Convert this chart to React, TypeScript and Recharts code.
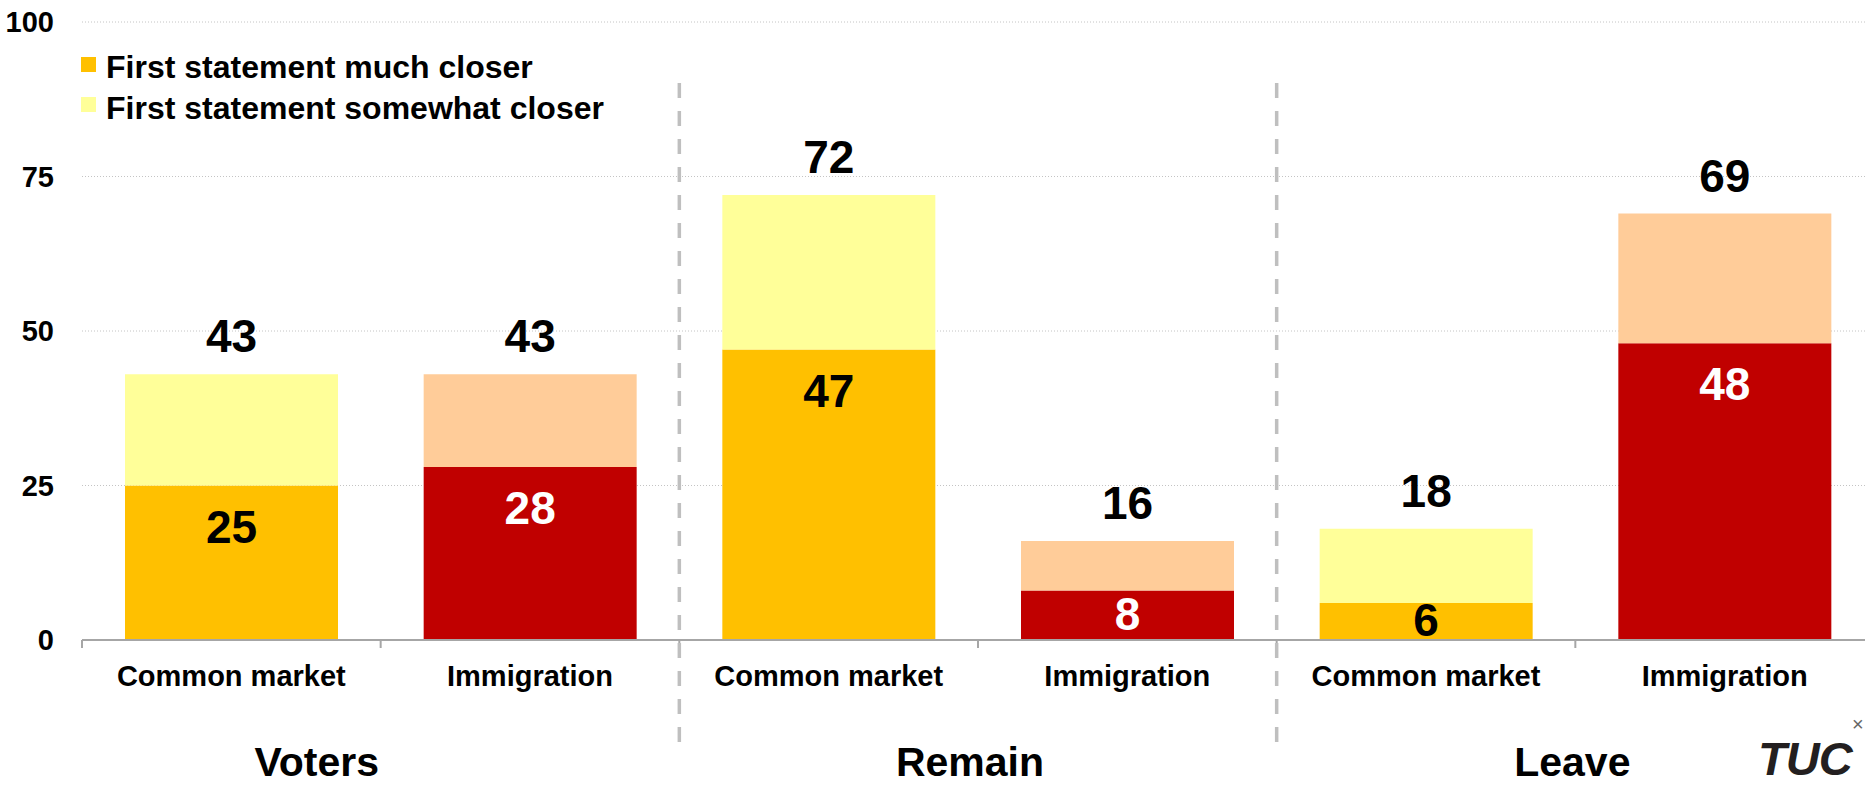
import { BarChart, Bar, XAxis, YAxis, CartesianGrid, Cell, LabelList, Legend } from 'recharts'

const CATEGORIES = ['Common market', 'Immigration', 'Common market', 'Immigration', 'Common market', 'Immigration']
const GROUPS = ['Voters', 'Voters', 'Remain', 'Remain', 'Leave', 'Leave']
const MUCH = [25, 28, 47, 8, 6, 48]
const SOMEWHAT = [18, 15, 25, 8, 12, 21]
const TOTALS = [43, 43, 72, 16, 18, 69]
const Y_TICKS = [0, 25, 50, 75, 100]
const LEGEND_LABELS = ['First statement much closer', 'First statement somewhat closer']

const FONT = '"Liberation Sans", Arial, Helvetica, sans-serif'
const MARKET_MUCH = '#FFC000'
const MARKET_SOME = '#FFFF99'
const IMM_MUCH = '#C00000'
const IMM_SOME = '#FFCC99'
const AXIS_GREY = '#a6a6a6'

const CHART_W = 1880
const CHART_H = 786
const MARGIN = { top: 22, right: 6, left: 0, bottom: 0 }
const Y_W = 82
const BAND = (CHART_W - MARGIN.left - MARGIN.right - Y_W) / CATEGORIES.length
// the Voters label sits left of its group centre in the original
const GROUP_NUDGE: Record<string, number> = { Voters: -64, Remain: -8, Leave: -3 }

const data = CATEGORIES.map((c, i) => ({
  key: `${GROUPS[i]}-${c}`,
  category: c,
  group: GROUPS[i],
  much: MUCH[i],
  somewhat: SOMEWHAT[i],
  total: TOTALS[i],
}))

const isImm = (i: number) => data[i].category === 'Immigration'

function CategoryTick(props: any) {
  const { x, y, index, payload } = props
  const half = payload?.offset || BAND / 2
  const row = data[index]
  if (!row) return null
  const left = x - half
  const right = x + half
  const groupStart = index === 0 || data[index - 1].group !== row.group
  const groupEnd = index === data.length - 1 || data[index + 1].group !== row.group
  let groupX = 0
  if (groupEnd) {
    let s = index
    while (s > 0 && data[s - 1].group === row.group) s--
    groupX = (x - (index - s) * half * 2 - half + right) / 2 + (GROUP_NUDGE[row.group] || 0)
  }
  return (
    <g>
      <line x1={left} x2={left} y1={y} y2={y + 8} stroke={AXIS_GREY} strokeWidth={2} />
      {index === data.length - 1 && <line x1={right} x2={right} y1={y} y2={y + 8} stroke={AXIS_GREY} strokeWidth={2} />}
      {groupStart && index > 0 && (
        <line x1={left} x2={left} y1={y - 557} y2={y + 105} stroke="#bfbfbf" strokeWidth={3.5} strokeDasharray="15 13" />
      )}
      <text x={x} y={y + 46} textAnchor="middle" fontFamily={FONT} fontWeight="bold" fontSize={29} fill="#000">
        {row.category}
      </text>
      {groupEnd && (
        <text x={groupX} y={y + 136} textAnchor="middle" fontFamily={FONT} fontWeight="bold" fontSize={41} fill="#000">
          {row.group}
        </text>
      )}
    </g>
  )
}

function TotalLabel(props: any) {
  const { x, y, width, value } = props
  return (
    <text x={x + width / 2} y={y - 22} textAnchor="middle" fontFamily={FONT} fontWeight="bold" fontSize={46} fill="#000">
      {value}
    </text>
  )
}

function InnerLabel(props: any) {
  const { x, y, width, height, value, index } = props
  const centre = y + Math.min(40.5, height / 2 - 2)
  return (
    <text x={x + width / 2} y={centre + 16.5} textAnchor="middle" fontFamily={FONT} fontWeight="bold" fontSize={46}
      fill={isImm(index) ? '#fff' : '#000'}>
      {value}
    </text>
  )
}

function LegendBox() {
  const swatches = [MARKET_MUCH, MARKET_SOME]
  return (
    <div style={{ fontFamily: FONT, fontWeight: 'bold', fontSize: 32, lineHeight: '40.5px', color: '#000', whiteSpace: 'nowrap' }}>
      {LEGEND_LABELS.map((l, i) => (
        <div key={l} style={{ display: 'flex', alignItems: 'center' }}>
          <span style={{ display: 'inline-block', width: 15, height: 15, background: swatches[i], marginRight: 10, position: 'relative', top: -3 }} />
          <span>{l}</span>
        </div>
      ))}
    </div>
  )
}

export default function App() {
  return (
    <div style={{ position: 'absolute', left: 0, top: 0, width: 1865, height: 786, overflow: 'hidden', background: '#fff' }}>
      <BarChart width={CHART_W} height={CHART_H} data={data} margin={MARGIN}>
        <CartesianGrid vertical={false} stroke="#c4c4c4" strokeDasharray="1 2" />
        <XAxis dataKey="key" interval={0} height={146} tickSize={0} tickMargin={0} tickLine={false}
          axisLine={{ stroke: AXIS_GREY, strokeWidth: 2 }} tick={<CategoryTick />} />
        <YAxis domain={[0, 100]} ticks={Y_TICKS} width={Y_W} axisLine={false} tickLine={false} tickSize={0} tickMargin={28}
          tick={{ fontFamily: FONT, fontWeight: 'bold', fontSize: 29, fill: '#000' }} />
        <Legend layout="vertical" align="center" verticalAlign="middle" wrapperStyle={{ left: 81, top: 47, width: 'auto' }}
          content={() => <LegendBox />} />
        <Bar dataKey="much" stackId="a" barSize={213} isAnimationActive={false}>
          {data.map((d, i) => <Cell key={d.key} fill={isImm(i) ? IMM_MUCH : MARKET_MUCH} />)}
          <LabelList dataKey="much" content={<InnerLabel />} />
        </Bar>
        <Bar dataKey="somewhat" stackId="a" barSize={213} isAnimationActive={false}>
          {data.map((d, i) => <Cell key={d.key} fill={isImm(i) ? IMM_SOME : MARKET_SOME} />)}
          <LabelList dataKey="total" content={<TotalLabel />} />
        </Bar>
      </BarChart>
      <div style={{ position: 'absolute', left: 1758, top: 735, fontFamily: FONT, fontWeight: 'bold', fontStyle: 'italic',
        fontSize: 47, lineHeight: '47px', letterSpacing: -1, color: '#231f20' }}>TUC</div>
      <div style={{ position: 'absolute', left: 1852, top: 714, fontFamily: FONT, fontSize: 20, lineHeight: '20px', color: '#666' }}>×</div>
    </div>
  )
}
